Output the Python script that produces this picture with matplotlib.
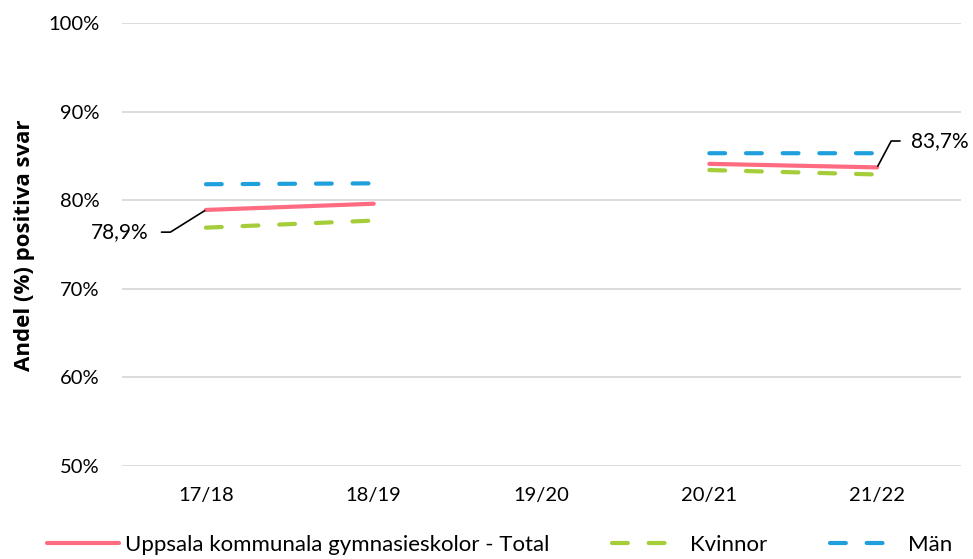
import numpy as np
import matplotlib.pyplot as plt

plt.rcParams['font.family'] = ['Lato', 'DejaVu Sans']

years = ['17/18', '18/19', '19/20', '20/21', '21/22']
total = [78.9, 79.6, np.nan, 84.1, 83.7]
kvinnor = [76.9, 77.7, np.nan, 83.4, 82.9]
man = [81.8, 81.9, np.nan, 85.3, 85.3]

x = np.arange(len(years))

fig = plt.figure(figsize=(9.73, 5.59), dpi=100)
ax = fig.add_axes([0.1254, 0.1664, 0.8623, 0.7925])

ax.plot(x, total, color='#FF6B81', lw=3, solid_capstyle='round',
        label='Uppsala kommunala gymnasieskolor - Total', zorder=3)
ax.plot(x, kvinnor, color='#A5CD39', lw=3, ls=(0, (3.8, 5)), dash_capstyle='round',
        label='Kvinnor', zorder=2)
ax.plot(x, man, color='#1FA0DC', lw=3, ls=(0, (3.8, 5)), dash_capstyle='round',
        label='Män', zorder=2)

# data labels with leader lines
ax.annotate('78,9%', xy=(x[0], total[0]), xytext=(-41, -16), textcoords='offset points',
            fontsize=15, ha='right', va='center',
            arrowprops=dict(arrowstyle='-', color='black', lw=1.2,
                            connectionstyle='angle,angleA=0,angleB=32,rad=0',
                            shrinkA=7, shrinkB=1))
ax.annotate('83,7%', xy=(x[4], total[4]), xytext=(24.5, 19), textcoords='offset points',
            fontsize=15, ha='left', va='center',
            arrowprops=dict(arrowstyle='-', color='black', lw=1.2,
                            connectionstyle='angle,angleA=0,angleB=62,rad=0',
                            shrinkA=6, shrinkB=1))

ax.set_xlim(-0.5, 4.5)
ax.set_ylim(50, 100)
ax.set_xticks(x)
ax.set_xticklabels(years)
ax.set_yticks(np.arange(50, 101, 10))
ax.set_yticklabels([f'{v}%' for v in range(50, 101, 10)])
ax.tick_params(axis='both', length=0, labelsize=14.5)
ax.tick_params(axis='x', pad=15)
ax.tick_params(axis='y', pad=16)
ax.grid(axis='y', color='#D9D9D9', lw=1.3)
ax.set_axisbelow(True)
for s in ax.spines.values():
    s.set_visible(False)

fig.text(0.0247, 0.5608, 'Andel (%) positiva svar', rotation=90, fontsize=16,
         family=['Open Sans', 'DejaVu Sans'], fontweight='bold', ha='center', va='center')

fig.legend(loc='center left', bbox_to_anchor=(0.0483, 0.025), ncol=3, frameon=False,
           fontsize=16, handlelength=3.25, handletextpad=0.27, columnspacing=2.8,
           borderaxespad=0, borderpad=0)

fig.savefig('out.png', dpi=100)
